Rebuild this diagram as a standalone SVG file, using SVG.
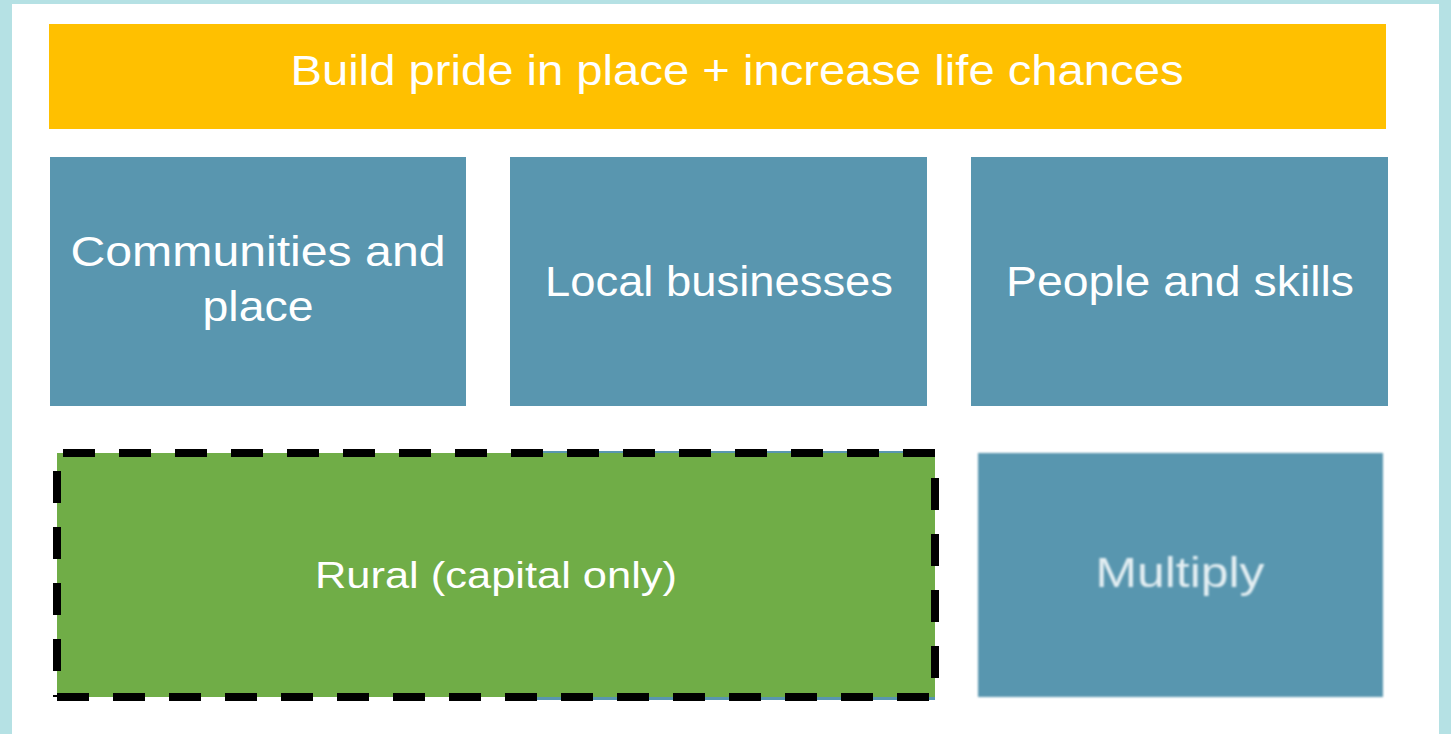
<svg xmlns="http://www.w3.org/2000/svg" width="1451" height="734" viewBox="0 0 1451 734">
  <defs>
    <style>
      .box { fill: #5996af; }
      .lbl { font-family: "Liberation Sans", "DejaVu Sans", sans-serif; fill: #ffffff; text-anchor: middle; }
      .dash { stroke: #000000; stroke-width: 8; stroke-dasharray: 32 24; fill: none; }
    </style>
    <filter id="soft" x="-5%" y="-5%" width="110%" height="110%">
      <feGaussianBlur stdDeviation="1"/>
    </filter>
  </defs>
  <rect x="0" y="0" width="1451" height="734" fill="#b5e1e4"/>
  <rect x="12" y="4" width="1427" height="730" fill="#ffffff"/>

  <g id="title">
    <rect x="49" y="24" width="1337" height="105" fill="#ffc000"/>
    <text class="lbl" x="737" y="85" font-size="43" textLength="893" lengthAdjust="spacingAndGlyphs">Build pride in place + increase life chances</text>
  </g>

  <g id="communities">
    <rect class="box" x="50" y="157" width="416" height="249"/>
    <text class="lbl" x="258" y="266" font-size="43" textLength="375" lengthAdjust="spacingAndGlyphs">Communities and</text>
    <text class="lbl" x="258" y="321" font-size="43" textLength="111" lengthAdjust="spacingAndGlyphs">place</text>
  </g>

  <g id="local-businesses">
    <rect class="box" x="510" y="157" width="417" height="249"/>
    <text class="lbl" x="719" y="296" font-size="43" textLength="348" lengthAdjust="spacingAndGlyphs">Local businesses</text>
  </g>

  <g id="people-skills">
    <rect class="box" x="971" y="157" width="417" height="249"/>
    <text class="lbl" x="1180" y="296" font-size="43" textLength="348" lengthAdjust="spacingAndGlyphs">People and skills</text>
  </g>

  <g id="rural">
    <rect class="box" x="537" y="451" width="398" height="249"/>
    <rect x="57" y="453" width="878" height="244" fill="#70ad47"/>
    <line class="dash" x1="63" y1="453" x2="939" y2="453"/>
    <line class="dash" x1="935" y1="478" x2="935" y2="697"/>
    <line class="dash" x1="57" y1="697" x2="935" y2="697"/>
    <line class="dash" x1="57" y1="471" x2="57" y2="697"/>
    <text class="lbl" x="496" y="588" font-size="36" textLength="362" lengthAdjust="spacingAndGlyphs">Rural (capital only)</text>
  </g>

  <g id="multiply">
    <rect class="box" x="978" y="453" width="405" height="244" filter="url(#soft)"/>
    <text class="lbl" x="1180" y="587" font-size="42" textLength="169" lengthAdjust="spacingAndGlyphs" style="fill:#e3eef2" filter="url(#soft)">Multiply</text>
  </g>
</svg>
